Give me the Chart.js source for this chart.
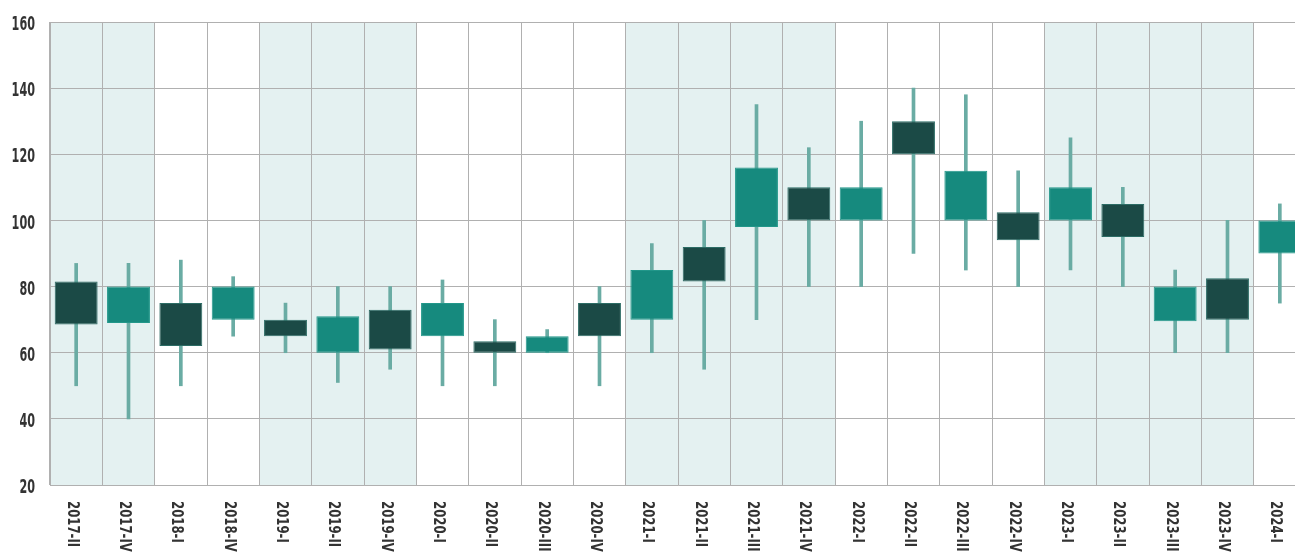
<!DOCTYPE html>
<html>
<head>
    <title>Quarterly Candles</title>
    <script src="https://cdn.jsdelivr.net/npm/chart.js"></script>
    <style>
        html, body { margin: 0; padding: 0; background: #fff; overflow: hidden; }
        #wrap { position: relative; width: 1306px; height: 554px; }
    </style>
</head>
<body>
<div id="wrap"><canvas id="candleChart"></canvas></div>

<script>
    const quarters = ['2017-II', '2017-IV', '2018-I', '2018-IV', '2019-I', '2019-II', '2019-IV',
        '2020-I', '2020-II', '2020-III', '2020-IV', '2021-I', '2021-II', '2021-III', '2021-IV',
        '2022-I', '2022-II', '2022-III', '2022-IV', '2023-I', '2023-II', '2023-III', '2023-IV', '2024-I'];
    const lows       = [50, 40, 50, 65, 60, 51, 55, 50, 50, 60, 50, 60, 55, 70, 80, 80, 90, 85, 80, 85, 80, 60, 60, 75];
    const bodyBottom = [68.5, 69, 62, 70, 65, 60, 61, 65, 60, 60, 65, 70, 81.5, 98, 100, 100, 120, 100, 94, 100, 95, 69.5, 70, 90];
    const bodyTop    = [81.5, 80, 75, 80, 70, 71, 73, 75, 63.5, 65, 75, 85, 92, 116, 110, 110, 130, 115, 102.5, 110, 105, 80, 82.5, 100];
    const highs      = [87, 87, 88, 83, 75, 80, 80, 82, 70, 67, 80, 93, 100, 135, 122, 130, 140, 138, 115, 125, 110, 85, 100, 105];
    const yTicks = [20, 40, 60, 80, 100, 120, 140, 160];

    const dark = '#1b4a46';
    const teal = '#168a7e';
    const labelFamily = '"DejaVu Sans", sans-serif';

    // odd years get a light band behind their columns
    const yearBands = {
        id: 'yearBands',
        beforeDraw(chart) {
            const x = chart.scales.x;
            const area = chart.chartArea;
            const ctx = chart.ctx;
            const half = (x.getPixelForValue(1) - x.getPixelForValue(0)) / 2;
            ctx.save();
            ctx.fillStyle = '#e4f1f1';
            quarters.forEach((q, i) => {
                const year = parseInt(q.split('-')[0]);
                if (year % 2 === 1) {
                    const c = x.getPixelForValue(i);
                    ctx.fillRect(c - half, area.top, half * 2, area.bottom - area.top);
                }
            });
            ctx.restore();
        }
    };

    // narrow tick text: y values on the left, quarters turned clockwise below
    const narrowLabels = {
        id: 'narrowLabels',
        afterDraw(chart) {
            const x = chart.scales.x;
            const y = chart.scales.y;
            const ctx = chart.ctx;
            ctx.save();
            ctx.fillStyle = '#333';

            ctx.font = 'bold 20px ' + labelFamily;
            ctx.textAlign = 'right';
            ctx.textBaseline = 'middle';
            yTicks.forEach(v => {
                ctx.save();
                ctx.translate(35, y.getPixelForValue(v) + 3);
                ctx.scale(0.56, 1);
                ctx.fillText(String(v), 0, 0);
                ctx.restore();
            });

            ctx.font = 'bold 15px ' + labelFamily;
            ctx.textAlign = 'left';
            quarters.forEach((q, i) => {
                ctx.save();
                ctx.translate(x.getPixelForValue(i) - 4.5, chart.chartArea.bottom + 16);
                ctx.rotate(Math.PI / 2);
                ctx.scale(0.78, 1);
                ctx.fillText(q, 0, 0);
                ctx.restore();
            });
            ctx.restore();
        }
    };

    const ctx = document.getElementById('candleChart').getContext('2d');
    new Chart(ctx, {
        type: 'bar',
        data: {
            labels: quarters,
            datasets: [{
                label: 'Body',
                data: quarters.map((q, i) => [bodyBottom[i], bodyTop[i]]),
                backgroundColor: quarters.map((q, i) => i % 2 === 0 ? dark : teal),
                borderColor: quarters.map((q, i) => i % 2 === 0 ? '#2c6c65' : '#22978a'),
                borderWidth: 1,
                borderSkipped: false,
                grouped: false,
                barPercentage: 0.82,
                categoryPercentage: 1
            }, {
                label: 'Range',
                data: quarters.map((q, i) => [lows[i], highs[i]]),
                backgroundColor: '#6aaca4',
                borderWidth: 0,
                grouped: false,
                barThickness: 3
            }]
        },
        options: {
            responsive: true,
            maintainAspectRatio: false,
            animation: false,
            layout: { padding: { top: 22, right: 0, bottom: 0, left: 0 } },
            plugins: { legend: { display: false }, tooltip: { enabled: false } },
            scales: {
                x: {
                    offset: true,
                    grid: { offset: true, color: '#b0b0b0', drawTicks: false },
                    border: { color: '#b0b0b0' },
                    ticks: { display: false },
                    afterFit: s => { s.height = 69; }
                },
                y: {
                    min: 20,
                    max: 160,
                    grid: { color: '#b0b0b0', drawTicks: false },
                    border: { color: '#b0b0b0' },
                    afterBuildTicks: s => { s.ticks = yTicks.map(v => ({ value: v })); },
                    ticks: { display: false },
                    afterFit: s => { s.width = 50; }
                }
            }
        },
        plugins: [yearBands, narrowLabels]
    });
</script>
</body>
</html>
